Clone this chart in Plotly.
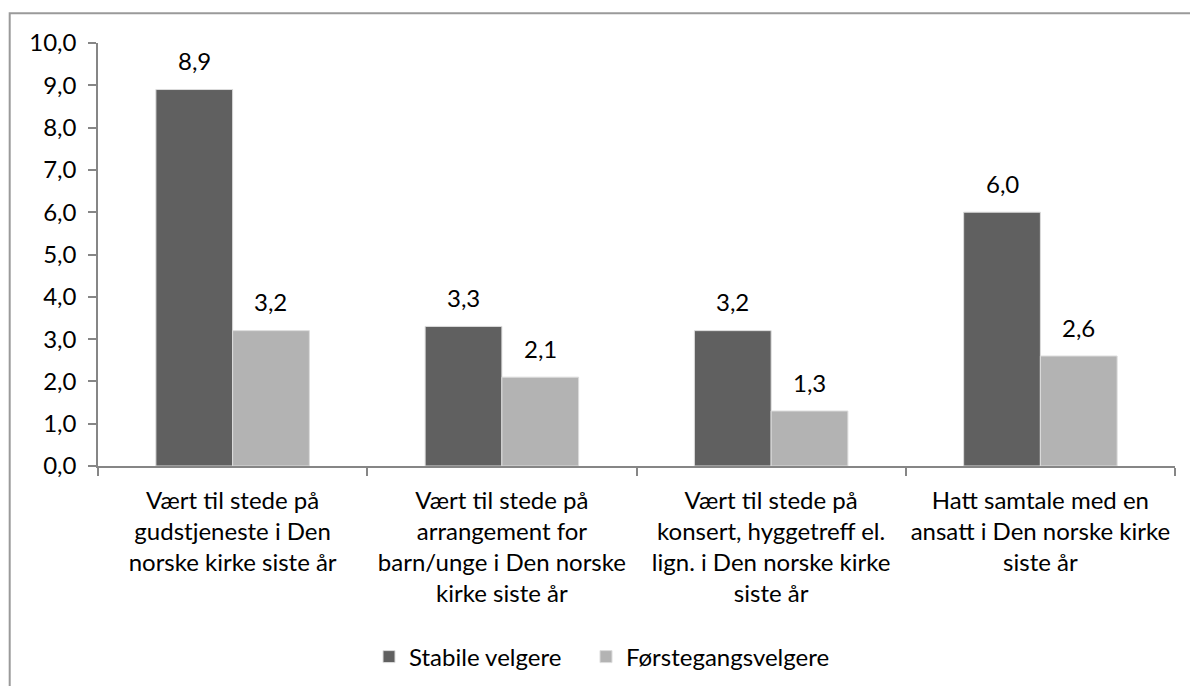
import plotly.graph_objects as go

categories = [
    "Vært til stede på<br>gudstjeneste i Den<br>norske kirke siste år",
    "Vært til stede på<br>arrangement for<br>barn/unge i Den norske<br>kirke siste år",
    "Vært til stede på<br>konsert, hyggetreff el.<br>lign. i Den norske kirke<br>siste år",
    "Hatt samtale med en<br>ansatt i Den norske kirke<br>siste år",
]
stabile = [8.9, 3.3, 3.2, 6.0]
forstegangs = [3.2, 2.1, 1.3, 2.6]
series_names = ["Stabile velgere", "Førstegangsvelgere"]
series_colors = ["#606060", "#b3b3b3"]
y_ticks = [0, 1, 2, 3, 4, 5, 6, 7, 8, 9, 10]

FONT = "Lato"
FS = 24

W, H = 1190, 686
L, R, T, B = 98, 15, 43, 220
pw = W - L - R
ph = H - T - B
BARGAP = 0.43

legend_names = ["legend", "legend2"]
legend_left_px = [369, 586]

fig = go.Figure()
for name, vals, col, lg in zip(series_names, [stabile, forstegangs], series_colors, legend_names):
    fig.add_trace(go.Bar(
        x=categories, y=vals, name=name,
        marker=dict(color=col, line=dict(color="#dcdcdc", width=1)),
        legend=lg,
    ))

# data labels placed at each bar's value through the data axes
cat_px = pw / len(categories)
bar_px = cat_px * (1 - BARGAP) / 2
for k, vals in enumerate([stabile, forstegangs]):
    for c, v in zip(categories, vals):
        fig.add_annotation(
            x=c, y=v, xref="x", yref="y",
            text=f"{v:.1f}".replace(".", ","),
            showarrow=False, yanchor="middle",
            xshift=(k - 0.5) * bar_px, yshift=29,
            font=dict(family=FONT, size=FS, color="#000000"),
        )

legend_style = dict(
    orientation="h", xanchor="left",
    y=-(657 - (H - B)) / ph, yanchor="middle",
    font=dict(family=FONT, size=FS, color="#000000"),
    bgcolor="rgba(0,0,0,0)", borderwidth=0,
)

fig.update_layout(
    width=W, height=H,
    margin=dict(l=L, r=R, t=T, b=B, pad=0, autoexpand=False),
    paper_bgcolor="white", plot_bgcolor="white",
    separators=", ",
    barmode="group", bargap=BARGAP, bargroupgap=0.0,
    font=dict(family=FONT, size=FS, color="#000000"),
    showlegend=True,
    legend=dict(x=(legend_left_px[0] - L) / pw, **legend_style),
    legend2=dict(x=(legend_left_px[1] - L) / pw, **legend_style),
)

fig.update_xaxes(
    type="category", automargin=False,
    showline=True, linecolor="#868686", linewidth=1.5,
    ticks="outside", ticklen=8, tickcolor="#868686", tickwidth=1.5,
    tickson="boundaries",
    tickfont=dict(family=FONT, size=FS, color="#000000"),
    ticklabelstandoff=12,
    showgrid=False, zeroline=False,
    tickangle=0,
)
fig.update_yaxes(
    range=[0, 10], automargin=False,
    tickvals=y_ticks, tickformat=".1f",
    showline=True, linecolor="#868686", linewidth=1.5,
    ticks="outside", ticklen=8, tickcolor="#868686", tickwidth=1.5,
    tickfont=dict(family=FONT, size=FS, color="#000000"),
    ticklabelstandoff=7,
    showgrid=False, zeroline=False,
)

# chart-area border (Excel style)
fig.add_shape(
    type="rect", xref="paper", yref="paper",
    x0=(9.7 - L) / pw, x1=1.2, y0=-1.5, y1=((H - B) - 13.3) / ph,
    line=dict(color="#9a9a9a", width=2), fillcolor="rgba(0,0,0,0)",
    layer="below",
)

fig.write_html(
    "out.html",
    config={"displayModeBar": False},
    post_script="document.body.style.margin='0';document.body.style.overflow='hidden';",
)
